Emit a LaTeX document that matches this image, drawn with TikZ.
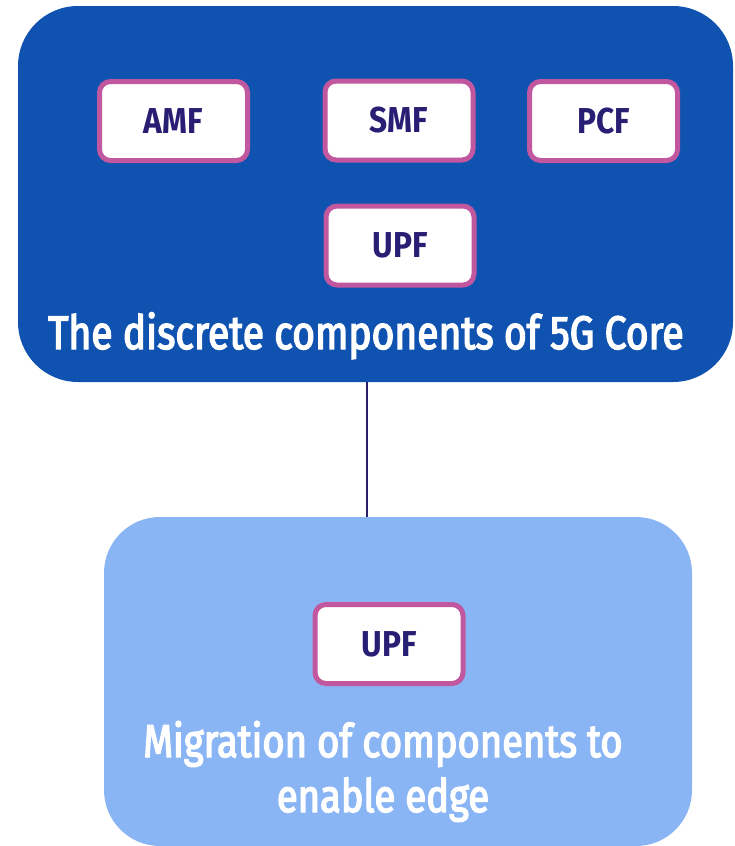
\documentclass[tikz,border=0pt]{standalone}
\usepackage{fontspec}
\setmainfont{Fira Sans}[FakeStretch=0.83]
\newfontfamily\titlefont{Fira Sans}[FakeStretch=0.83, FakeBold=3]
\newfontfamily\nffont{Fira Sans}[FakeStretch=0.88]
\usetikzlibrary{calc}
\definecolor{coreblue}{HTML}{1052B0}
\definecolor{edgeblue}{HTML}{8AB5F4}
\definecolor{nfborder}{HTML}{C1579E}
\definecolor{nftext}{HTML}{281E74}
\definecolor{linkcol}{HTML}{2B1F6B}
\tikzset{
  groupbox/.style={rectangle, rounded corners=60pt, inner sep=0pt, draw=none},
  nfbox/.style={rectangle, rounded corners=11pt, draw=nfborder, line width=5pt,
    fill=white, minimum width=148pt, minimum height=79pt, inner sep=0pt,
    text=nftext, font=\fontsize{36}{40}\nffont\bfseries},
  grouptitle/.style={text=white, align=center, inner sep=0pt,
    font=\fontsize{47}{55}\titlefont},
  link/.style={draw=linkcol, line width=2pt}
}
\begin{document}
\begin{tikzpicture}[x=1pt, y=-1pt]
  \useasboundingbox (0,0) rectangle (735,846);
  % 5G core group
  \node[groupbox, fill=coreblue, minimum width=715pt, minimum height=376pt] (core) at (375.5,194) {};
  % edge group
  \node[groupbox, fill=edgeblue, rounded corners=56pt, minimum width=588pt, minimum height=329pt] (edge) at (398,681.5) {};
  % connector between the groups
  \coordinate (linkx) at (367,0);
  \draw[link] (core.south -| linkx) -- (edge.north -| linkx);
  % network functions
  \node[nfbox] (amf) at (173.5,121) {AMF};
  \node[nfbox] (smf) at (399,120.5) {SMF};
  \node[nfbox] (pcf) at (603.5,121) {PCF};
  \node[nfbox] (upf) at (400,245.5) {UPF};
  \node[nfbox] (upfedge) at (389,644) {UPF};
  % group titles
  \node[grouptitle, anchor=base] (coretitle) at (366,349) {The discrete components of 5G Core};
  \node[grouptitle, anchor=base, font=\fontsize{46}{55}\titlefont] (edgetitle) at (383,812) {Migration of components to\\enable edge};
\end{tikzpicture}
\end{document}
